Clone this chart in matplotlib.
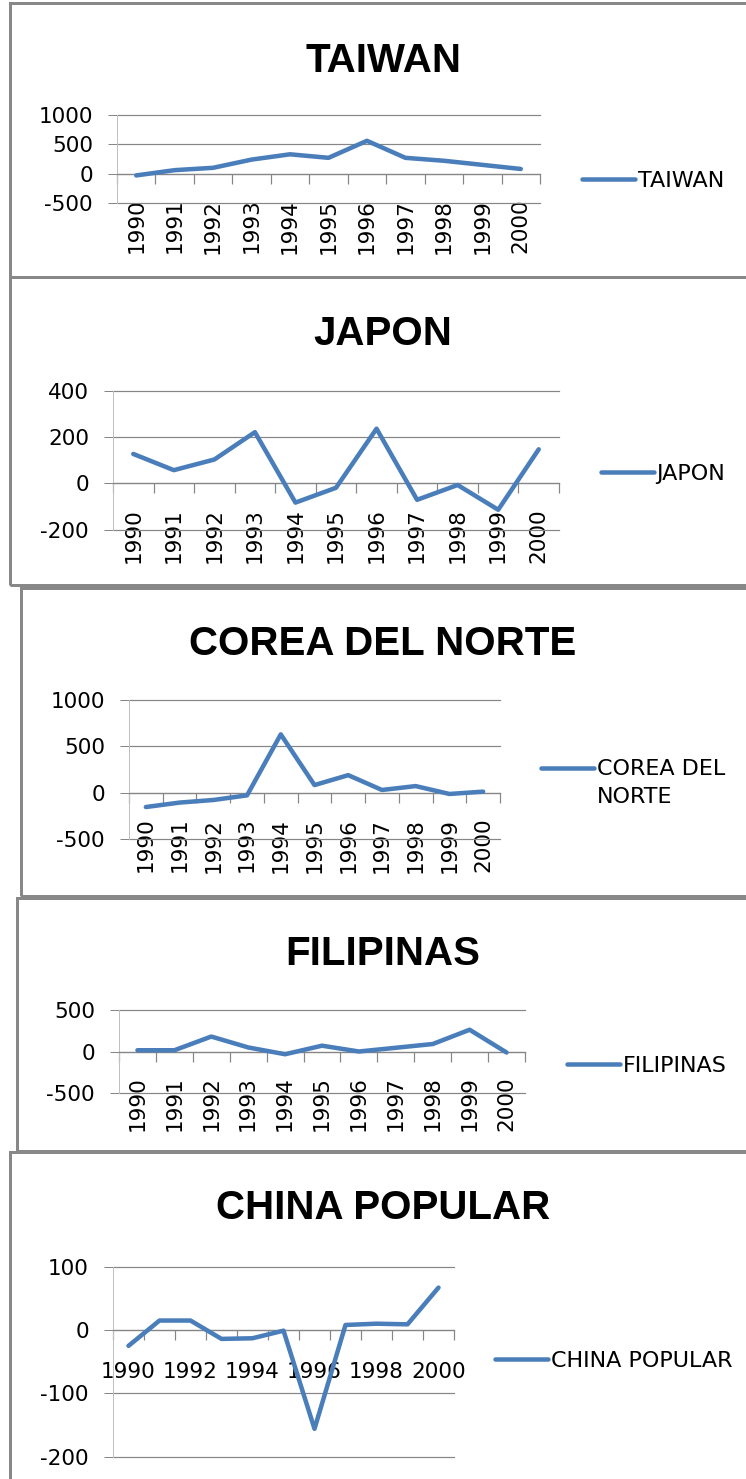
import matplotlib
matplotlib.use("Agg")
import matplotlib.pyplot as plt
from matplotlib.patches import Rectangle
import numpy as np

# ---- data -------------------------------------------------------------
years = [str(y) for y in range(1990, 2001)]

taiwan = [-30, 60, 100, 240, 330, 270, 560, 270, 220, 150, 80]
japon = [127, 57, 103, 221, -83, -19, 236, -71, -7, -114, 147]
corea = [-155, -107, -79, -29, 629, 82, 189, 29, 71, -14, 11]
filipinas = [15, 15, 180, 49, -33, 70, 0, 45, 90, 262, -12]
china = [-25, 15, 15, -14, -13, -1, -156, 8, 10, 9, 67]

yticks_taiwan = [-500, 0, 500, 1000]
yticks_japon = [-200, 0, 200, 400]
yticks_corea = [-500, 0, 500, 1000]
yticks_filipinas = [-500, 0, 500]
yticks_china = [-200, -100, 0, 100]

# ---- style ------------------------------------------------------------
plt.rcParams["font.family"] = ["DejaVu Sans"]
plt.rcParams["axes.unicode_minus"] = False

W, H = 746, 1479
fig = plt.figure(figsize=(W / 100, H / 100), dpi=100)
fig.patch.set_facecolor("white")

LINE = "#4a7ebb"
GRID = "#868686"
AXIS = "#c0c0c0"
BORDER = "#888888"
PX = 72 / 100  # points per pixel
TICK_FS = 15.5
LEG_FS = 16


def fx(x):
    return x / W


def fy(y):
    return 1 - y / H


def frame(left, top, bottom, right=W + 20):
    fig.add_artist(Rectangle((fx(left), fy(bottom)), fx(right - left),
                             (bottom - top) / H, transform=fig.transFigure,
                             facecolor="none", edgecolor=BORDER,
                             linewidth=3 * PX, zorder=0))


def panel(name, values, yticks, box, title_base, leg_xy, label_step=1,
          rotate=True, label_gap=25, legend_label=None):
    x0, x1, y0, y1 = box
    ax = fig.add_axes([fx(x0), fy(y1), fx(x1 - x0), (y1 - y0) / H])
    ax.set_facecolor("none")
    cats = np.arange(len(years))
    ax.plot(cats, values, color=LINE, linewidth=4.5 * PX,
            solid_capstyle="round", solid_joinstyle="round",
            label=legend_label or name, zorder=3)
    ax.set_xlim(-0.5, len(years) - 0.5)
    ax.set_ylim(min(yticks), max(yticks))

    # value axis with horizontal gridlines
    ax.set_yticks(yticks)
    ax.set_yticklabels([str(v) for v in yticks])
    ax.yaxis.grid(True, color=GRID, linewidth=1.2 * PX)
    for gl in ax.get_ygridlines():
        gl.set_clip_on(False)
    ax.tick_params(axis="y", length=9 * PX, width=1 * PX, color=GRID,
                   pad=15 * PX, labelsize=TICK_FS)

    # category axis crossing at zero
    for s in ("top", "right"):
        ax.spines[s].set_visible(False)
    ax.spines["left"].set_color(AXIS)
    ax.spines["left"].set_linewidth(1 * PX)
    ax.spines["bottom"].set_position(("data", 0))
    ax.spines["bottom"].set_color(GRID)
    ax.spines["bottom"].set_linewidth(1.2 * PX)
    ax.set_xticks(np.arange(-0.5, len(years), 1))
    ax.set_xticklabels([])
    ax.tick_params(axis="x", which="major", length=10 * PX,
                   width=1.2 * PX, color=GRID)
    ax.set_xticks(cats, minor=True)
    labels = [y if i % label_step == 0 else "" for i, y in enumerate(years)]
    ax.set_xticklabels(labels, minor=True,
                       rotation=90 if rotate else 0, fontsize=TICK_FS)
    ax.tick_params(axis="x", which="minor", length=0, pad=label_gap * PX)

    fig.text(fx(383), fy(title_base), name, ha="center", va="baseline",
             fontsize=29, fontweight="bold", family="Liberation Sans")

    lx, ly = leg_xy
    leg = ax.legend(loc="center left", bbox_to_anchor=(fx(lx), fy(ly)),
                    bbox_transform=fig.transFigure, frameon=False,
                    borderpad=0, borderaxespad=0, handlelength=2.4,
                    handletextpad=0.1, fontsize=LEG_FS)
    label = legend_label or name
    nlines = label.count("\n") + 1
    if nlines > 1:
        for t in leg.get_texts():
            t.set_linespacing(1.45)
        # keep the key line beside the first line of the label
        handle = leg.get_lines()[0]
        shift = (nlines - 1) * 31 * PX / 2
        handle.set_ydata(np.asarray(handle.get_ydata()) + shift)
    return ax


# panel frames
frame(9.5, 3, 277)
frame(9.5, 277, 585)
frame(20.5, 588, 896)
frame(16.5, 898, 1151)
frame(9.5, 1152, 1500)

panel("TAIWAN", taiwan, yticks_taiwan, (117, 540, 115, 203), 72, (582, 181))
panel("JAPON", japon, yticks_japon, (113, 559, 390.7, 529.7), 345, (601, 474))
panel("COREA DEL NORTE", corea, yticks_corea, (129, 500, 700, 839), 655,
      (541, 783), legend_label="COREA DEL\nNORTE")
panel("FILIPINAS", filipinas, yticks_filipinas, (119, 525, 1010, 1093), 965,
      (567, 1066))
panel("CHINA POPULAR", china, yticks_china, (113, 454, 1266.7, 1456.7), 1219,
      (495, 1361), label_step=2, rotate=False, label_gap=32)

fig.savefig("out.png", dpi=100, facecolor="white")
